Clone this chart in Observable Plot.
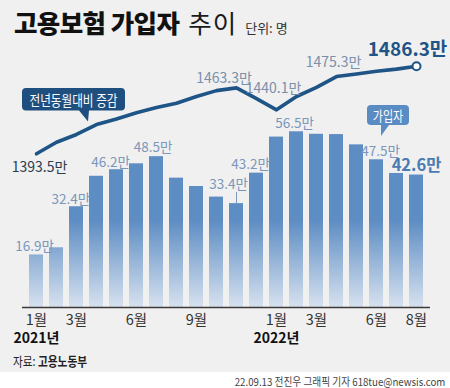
<!DOCTYPE html>
<html><head><meta charset="utf-8">
<script src="https://cdn.jsdelivr.net/npm/d3@7"></script>
<script src="https://cdn.jsdelivr.net/npm/@observablehq/plot@0.6"></script>
<style>
body{margin:0;width:450px;height:388px;background:#fff;font-family:"Noto Sans CJK KR",sans-serif;overflow:hidden}
#wrap{position:relative;width:450px;height:372px;background:#f0f0f0}
#title{position:absolute;left:14px;top:7px;white-space:nowrap;font-size:25.5px;line-height:30px;color:#111}
#title b{font-weight:900;letter-spacing:-0.6px}
#title .sub{font-weight:400;margin-left:9px;color:#1a1a1a;letter-spacing:1px}
#title .unit{font-size:13px;margin-left:8px;color:#333}
#chart{position:absolute;left:0;top:40px}
#source{position:absolute;left:13px;top:352px;font-size:13px;line-height:18px;color:#222;transform:scaleX(0.82);transform-origin:left center;white-space:nowrap}
#source b{font-weight:700}
#credit{position:absolute;right:5px;top:374px;font-size:11px;line-height:15px;color:#444;transform:scaleX(0.88);transform-origin:right center;white-space:nowrap}
</style>
</head>
<body>
<div id="wrap">
  <div id="title"><b>고용보험 가입자</b><span class="sub">추이</span><span class="unit">단위: 명</span></div>
  <div id="chart"></div>
  <div id="source">자료: <b>고용노동부</b></div>
</div>
<div id="credit">22.09.13 전진우 그래픽 기자 618tue@newsis.com</div>
<script>
const months = ["2021-01","2021-02","2021-03","2021-04","2021-05","2021-06","2021-07","2021-08","2021-09","2021-10","2021-11","2021-12","2022-01","2022-02","2022-03","2022-04","2022-05","2022-06","2022-07","2022-08"];
const changes = [16.9, 19.2, 32.4, 42.2, 44.3, 46.2, 48.5, 41.6, 38.9, 35.5, 33.4, 43.2, 54.8, 56.5, 55.7, 55.6, 52.3, 47.5, 43.1, 42.6];
const subscribers = [1393.5, 1405.7, 1414.0, 1424.5, 1430.4, 1437.0, 1442.5, 1447.1, 1454.2, 1460.4, 1463.3, 1452.0, 1440.1, 1454.2, 1463.9, 1475.3, 1478.1, 1480.9, 1483.2, 1486.3];
const tickMonths = ["2021-01","2021-03","2021-06","2021-09","2022-01","2022-03","2022-06","2022-08"];
const tickLabels = ["1월","3월","6월","9월","1월","3월","6월","8월"];
const yearMonths = ["2021-01","2022-01"];
const yearLabels = ["2021년","2022년"];
const barLabelMonths = ["2021-01","2021-03","2021-06","2021-07","2021-11","2021-12","2022-02","2022-06","2022-08"];
const lineLabelMonths = ["2021-01","2021-11","2022-01","2022-04","2022-08"];
const unitSuffix = "만";
const lineCalloutText = "전년동월대비 증감";
const barCalloutText = "가입자";

const data = months.map((m, i) => ({month: m, change: changes[i], subs: subscribers[i]}));
const byMonth = new Map(data.map(d => [d.month, d]));
const ticks = tickMonths.map((m, i) => ({month: m, label: tickLabels[i]}));
const years = yearMonths.map((m, i) => ({month: m, label: yearLabels[i]}));

// second (subscriber) axis expressed in bar units
const lineScale = d3.scaleLinear([1393.5, 1486.3], [49.42, 77.59]);

const FONT = "Noto Sans CJK KR";
const lineDark = "#1e5486";
const labelBlue = "#7b97ba";
const labelGrey = "#7a8fab";

// label offsets (styling)
const barOff = {"2021-01":[-2,-8.3],"2021-03":[-5.6,-7.5],"2021-06":[-26,-1.6],"2021-07":[-3.4,-8.5],"2021-11":[-8,-19],"2021-12":[-6,-8.7],"2022-02":[-2,-8.5],"2022-06":[4,-8.5],"2022-08":[0,-9.7]};
const lineOff = {"2021-01":[3,13.4],"2021-11":[-12.5,-8.9],"2022-01":[-3,-20.8],"2022-04":[-3,-13.6],"2022-08":[-9,-16.7]};

function gradientDefs() {
  const ns = "http://www.w3.org/2000/svg";
  const defs = document.createElementNS(ns, "defs");
  const g = document.createElementNS(ns, "linearGradient");
  g.setAttribute("id", "barGrad");
  g.setAttribute("gradientUnits", "userSpaceOnUse");
  g.setAttribute("x1", 0); g.setAttribute("x2", 0);
  g.setAttribute("y1", 180); g.setAttribute("y2", 267);
  [[0, "#5d8dc3"], [1, "#d6e1ef"]].forEach(([o, c]) => {
    const s = document.createElementNS(ns, "stop");
    s.setAttribute("offset", o); s.setAttribute("stop-color", c);
    g.appendChild(s);
  });
  defs.appendChild(g);
  return defs;
}

const barLabelMarks = barLabelMonths.map(m => {
  const last = m === months[months.length - 1];
  return Plot.text([byMonth.get(m)], {
    x: "month", y: "change", text: d => d.change.toFixed(1) + unitSuffix,
    dx: barOff[m][0], dy: barOff[m][1],
    fill: last ? "#4b7bb2" : labelBlue,
    fontSize: last ? 16.5 : 13.5, fontWeight: last ? 700 : 400,
    ariaLabel: last ? "c-0.84" : "c-0.76"
  });
});

const lineLabelMarks = lineLabelMonths.map((m, i) => {
  const first = i === 0, last = m === months[months.length - 1];
  return Plot.text([byMonth.get(m)], {
    x: "month", y: d => lineScale(d.subs), text: d => d.subs.toFixed(1) + unitSuffix,
    dx: lineOff[m][0], dy: lineOff[m][1],
    fill: last ? lineDark : first ? "#2c3c4e" : labelGrey,
    fontSize: last ? 19 : 14, fontWeight: last ? 700 : 400,
    ariaLabel: last ? "c-0.76" : "c-0.77"
  });
});

const chart = Plot.plot({
  width: 450, height: 312,
  marginLeft: 22, marginRight: 20, marginTop: 0, marginBottom: 45,
  style: {background: "transparent", fontFamily: FONT, overflow: "visible"},
  x: {type: "band", domain: months, paddingInner: 0.29, paddingOuter: 0.145, axis: null},
  y: {domain: [0, 80], range: [267, 18.2], axis: null},
  marks: [
    gradientDefs,
    Plot.barY(data, {x: "month", y: "change", fill: "url(#barGrad)"}),
    Plot.ruleY([0], {stroke: "#3a3a3a", strokeWidth: 1.5}),
    Plot.ruleX([byMonth.get("2021-11")], {x: "month", y1: "change", y2: d => d.change + 3.6, stroke: labelBlue, strokeWidth: 1}),
    Plot.line(data, {x: "month", y: d => lineScale(d.subs), stroke: lineDark, strokeWidth: 3.6, strokeLinejoin: "round", strokeLinecap: "round"}),
    Plot.dot([data[data.length - 1]], {x: "month", y: d => lineScale(d.subs), r: 4, fill: "#fff", stroke: lineDark, strokeWidth: 2}),
    ...barLabelMarks,
    ...lineLabelMarks,
    Plot.text(ticks, {x: "month", y: 0, text: "label", dy: 13.2, fontSize: 14.5, fill: "#333", ariaLabel: "c-0.88"}),
    Plot.text(years, {x: "month", y: 0, text: "label", dy: 31.5, fontSize: 14, fontWeight: 700, fill: "#111", ariaLabel: "c-0.76"})
  ]
});
document.getElementById("chart").appendChild(chart);

// callouts anchored through the plot scales
const xs = chart.scale("x"), ys = chart.scale("y");
const cx = m => xs.apply(m) + xs.bandwidth / 2;
const svg = d3.select(chart);
function callout({tipX, tipY, x0, x1, y0, y1, baseA, baseB, fill, label, fontSize, factor}) {
  const r = 4;
  const p = `M${x0 + r},${y0}H${x1 - r}Q${x1},${y0} ${x1},${y0 + r}V${y1 - r}Q${x1},${y1} ${x1 - r},${y1}H${baseB}L${tipX},${tipY}L${baseA},${y1}H${x0 + r}Q${x0},${y1} ${x0},${y1 - r}V${y0 + r}Q${x0},${y0} ${x0 + r},${y0}Z`;
  const g = svg.append("g").attr("aria-label", "callout");
  g.append("path").attr("d", p).attr("fill", fill);
  g.append("text").attr("x", (x0 + x1) / 2).attr("y", (y0 + y1) / 2)
    .attr("text-anchor", "middle").attr("dominant-baseline", "central")
    .attr("fill", "#fff").attr("font-size", fontSize).attr("font-family", FONT)
    .attr("data-cond", factor).text(label);
}
{
  const d = byMonth.get("2021-04");
  const tipX = cx(d.month) - 8, tipY = ys.apply(lineScale(d.subs)) - 2.5;
  const y1 = tipY - 11;
  callout({tipX, tipY, x0: tipX - 66, x1: tipX + 37, y0: y1 - 22.5, y1, baseA: tipX - 9, baseB: tipX + 1, fill: "#1f4f7f", label: lineCalloutText, fontSize: 14.5, factor: 0.8});
}
{
  const d = byMonth.get("2022-06");
  const tipX = cx(d.month) + 5, tipY = ys.apply(d.change) - 23.3;
  const y1 = tipY - 11;
  callout({tipX, tipY, x0: tipX - 14, x1: tipX + 28, y0: y1 - 20, y1, baseA: tipX, baseB: tipX + 8, fill: "#5a8cc3", label: barCalloutText, fontSize: 13.5, factor: 0.82});
}

// condense text like the reference's narrow typeface
function condense(el, f) {
  const w = el.getComputedTextLength();
  if (w > 0) { el.setAttribute("textLength", (w * f).toFixed(2)); el.setAttribute("lengthAdjust", "spacingAndGlyphs"); }
}
chart.querySelectorAll("g[aria-label^='c-']").forEach(g => {
  const f = +g.getAttribute("aria-label").slice(2);
  g.querySelectorAll("text").forEach(t => condense(t, f));
});
chart.querySelectorAll("text[data-cond]").forEach(t => condense(t, +t.getAttribute("data-cond")));
</script>
</body></html>
